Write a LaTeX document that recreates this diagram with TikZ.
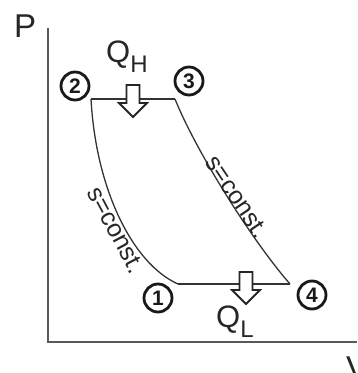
\documentclass[tikz,border=0pt]{standalone}
\usepackage{fontspec}
\setmainfont{Liberation Sans}
\usetikzlibrary{positioning}

\begin{document}
\begin{tikzpicture}[
    x=1pt, y=1pt,
    axis/.style={
      line width=2pt,
      color=black!65
    },
    process/.style={
      line width=1.3pt,
      color=black!80
    },
    state/.style={
      circle,
      draw=black!90,
      line width=2.8pt,
      minimum size=28pt,
      inner sep=0pt,
      font=\fontsize{21}{21}\selectfont\bfseries,
      text=black!90
    },
    axislabel/.style={
      font=\fontsize{33}{33}\selectfont,
      text=black!85,
      inner sep=0pt,
      anchor=base west
    },
    heatlabel/.style={
      font=\fontsize{31}{31}\selectfont,
      text=black!85,
      inner sep=0pt,
      anchor=base west
    },
    isentrope/.style={
      font=\fontsize{25}{25}\selectfont,
      text=black!85,
      inner sep=0pt
    },
    heat/.pic={
      \draw[line width=1.8pt, draw=black!85, fill=white]
        (-6.5,0) -- (-6.5,-18) -- (-14,-18) -- (0,-32)
        -- (14,-18) -- (6.5,-18) -- (6.5,0) -- cycle;
    }
  ]
    \useasboundingbox (0,0) rectangle (357,-373);

    % ---- Axes ----
    \coordinate (ptop)   at (48,-28);
    \coordinate (origin) at (48,-342);
    \coordinate (vend)   at (357,-342);
    \draw[axis] (ptop) -- (origin) -- (vend);
    \node[axislabel] (plab) at (14,-37)  {P};
    \node[axislabel] (vlab) at (346,-379) {V};

    % ---- Cycle corners ----
    \coordinate (c1) at (178,-284);
    \coordinate (c2) at (91,-99);
    \coordinate (c3) at (175,-99);
    \coordinate (c4) at (290,-284);

    % ---- Cycle ----
    \draw[process] (c2) -- (c3);
    \draw[process] (c3) .. controls (195,-149) and (250,-238) .. (c4);
    \draw[process] (c4) -- (c1);
    \draw[process] (c1) .. controls (133,-264) and (96,-190) .. (c2);

    % ---- States ----
    \node[state] (s1) at (158,-298) {1};
    \node[state] (s2) at (75,-86)   {2};
    \node[state] (s3) at (189,-81)  {3};
    \node[state] (s4) at (312,-295) {4};

    % ---- Isentropes ----
    \node[isentrope, rotate=-62] (sleft)  at (116,-230) {s=const.};
    \node[isentrope, rotate=-56] (sright) at (237,-197) {s=const.};

    % ---- Heat in / out ----
    \pic at (133,-85)  {heat};
    \pic at (246,-272) {heat};
    \node[heatlabel] (qh) at (106,-62)
      {Q\raisebox{-10pt}{\fontsize{24}{24}\selectfont H}};
    \node[heatlabel] (ql) at (216,-327)
      {Q\raisebox{-10pt}{\fontsize{24}{24}\selectfont L}};
  \end{tikzpicture}
\end{document}
